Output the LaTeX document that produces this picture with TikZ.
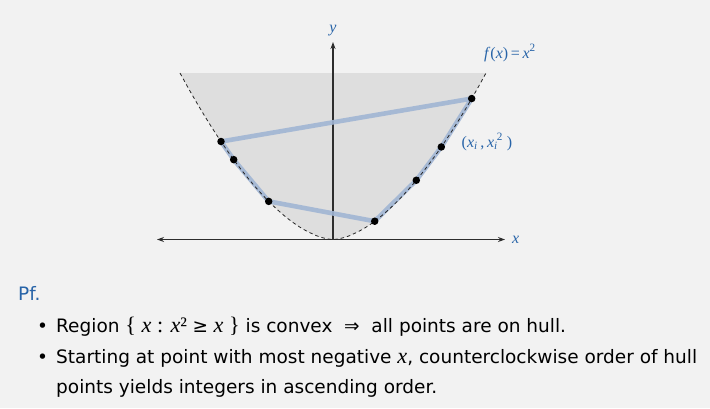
\documentclass[tikz,border=0pt]{standalone}
\usepackage{fontspec}
\setmainfont{DejaVu Sans}
\newfontfamily\tms{Liberation Serif}
\newfontfamily\tmsbig{Liberation Serif}[Scale=1.2]
\newcommand{\vit}[1]{{\tmsbig\itshape #1}}
\newcommand{\vrm}[1]{{\tmsbig #1}}
\usepackage{tikz}
\usetikzlibrary{arrows.meta}
\definecolor{bggray}{RGB}{242, 242, 242}
\definecolor{shadegray}{RGB}{222, 222, 222}
\definecolor{hullblue}{RGB}{160, 181, 212}
\definecolor{txtblue}{RGB}{40, 100, 168}
\definecolor{axisgray}{RGB}{45, 45, 45}

\begin{document}
\begin{tikzpicture}[
  x=1pt, y=-1pt,
  axisline/.style={draw=axisgray, line width=1.1pt},
  hullline/.style={draw=hullblue, line width=4.6pt, line join=round, opacity=0.9},
  curvedash/.style={draw=black!85, dashed, dash pattern=on 3.5pt off 3pt, line width=0.8pt},
  dotpt/.style={circle, fill=black, inner sep=0pt, minimum size=7.5pt},
  lbl/.style={font=\fontsize{16}{18}\selectfont\tms, text=txtblue, inner sep=0pt},
  body/.style={font=\fontsize{18.5}{22}\selectfont, anchor=base west, inner sep=0pt},
]
  % Background
  \fill[bggray] (0,0) rectangle (710,408);
  \useasboundingbox (0,0) rectangle (710,408);

  % Shaded region above the curve
  \fill[shadegray] plot[domain=-153:153, samples=80]
    ({333+\x}, {239.5-166.5*pow(abs(\x)/153,1.7)}) -- cycle;

  % Axes
  \coordinate (xl) at (157,239.5);
  \coordinate (xr) at (505,239.5);
  \coordinate (o) at (333,239.5);
  \coordinate (yt) at (333,42);
  \draw[axisline, {Stealth[length=7pt,width=5pt]}-{Stealth[length=7pt,width=5pt]}] (xl) -- (xr);
  \draw[axisline, -{Stealth[length=7pt,width=5pt]}] (o) -- (yt);
  \node[lbl, anchor=west] (xlab) at (512,239.5) {\itshape x};
  \node[lbl, anchor=south] (ylab) at (333,36) {\itshape y};

  % Points on the curve
  \foreach \i/\dx in {1/-112, 2/-99.3, 3/-64.3, 4/41.7, 5/83.3, 6/108.3, 7/138.7} {
    \coordinate (p\i) at ({333+\dx}, {239.5-166.5*pow(abs(\dx)/153,1.7)});
  }

  % Hull
  \draw[hullline] (p1) -- (p2) -- (p3) -- (p4) -- (p5) -- (p6) -- (p7) -- cycle;

  % Curve
  \draw[curvedash] plot[domain=-153:153, samples=80]
    ({333+\x}, {239.5-166.5*pow(abs(\x)/153,1.7)});

  \foreach \i in {1,...,7} {
    \node[dotpt] (d\i) at (p\i) {};
  }

  % Labels
  \node[lbl] (flab) at (510,53) {\textit{f}(\textit{x})\,=\,\textit{x}\textsuperscript{2}};
  \node[lbl] (plab) at (487,142) {(\textit{x}\textsubscript{\textit{i}}\,,\,\textit{x}\textsubscript{\textit{i}}\kern-1pt\textsuperscript{2}\ )};

  % Text
  \node[body, text=txtblue] (pf) at (18,300) {Pf.};
  \node[body] (b1) at (37,332.3) {•};
  \node[body] (t1) at (56,332.3) {Region \vrm{\{ \textit{x} : \textit{x}² }≥\vrm{ \textit{x} \}} is convex \ ⇒\ \ all points are on hull.};
  \node[body] (b2) at (37,363.3) {•};
  \node[body] (t2) at (56,363.3) {Starting at point with most negative \vit{x}, counterclockwise order of hull};
  \node[body] (t3) at (56,393.3) {points yields integers in ascending order.};

\end{tikzpicture}
\end{document}
